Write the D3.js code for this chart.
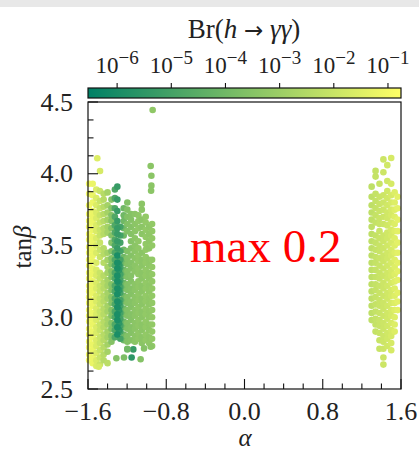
<!DOCTYPE html>
<html>
<head>
<meta charset="utf-8">
<script src="https://cdn.jsdelivr.net/npm/d3@7"></script>
<style>
  body { margin: 0; background: #fff; }
  svg { display: block; font-family: "Liberation Serif", "Times New Roman", serif; }
</style>
</head>
<body>
<svg id="chart" width="419" height="453"></svg>
<script>
// ── DATA ─────────────────────────────────────────────────────────────────────
const alphaTicks   = [-1.6, -0.8, 0.0, 0.8, 1.6];
const tanBetaTicks = [2.5, 3.0, 3.5, 4.0, 4.5];
const brExponents  = [-6, -5, -4, -3, -2, -1];
const brRange      = [2.9e-7, 0.174];

// left cluster, yellow side (alpha, Br, tanBeta values)
const yellowColumns = [
  { alpha: -1.588, br: 0.10,   tb: [2.70, 2.74, 2.79, 2.83, 2.88, 2.92, 2.97, 3.01, 3.05, 3.10, 3.14, 3.18, 3.22, 3.27, 3.31, 3.36, 3.40, 3.45, 3.49, 3.54, 3.58, 3.63, 3.67, 3.72, 3.78, 3.86, 3.93] },
  { alpha: -1.552, br: 0.06,   tb: [2.68, 2.72, 2.77, 2.81, 2.86, 2.90, 2.95, 2.99, 3.03, 3.08, 3.12, 3.17, 3.21, 3.25, 3.30, 3.34, 3.39, 3.43, 3.47, 3.52, 3.56, 3.61, 3.66, 3.70, 3.74, 3.80, 3.85, 3.93] },
  { alpha: -1.515, br: 0.025,  tb: [2.66, 2.70, 2.75, 2.80, 2.84, 2.89, 2.93, 2.98, 3.02, 3.06, 3.11, 3.15, 3.20, 3.24, 3.29, 3.33, 3.38, 3.45, 3.50, 3.55, 3.60, 3.64, 3.69, 3.73, 3.78, 3.83, 3.89] },
  { alpha: -1.478, br: 0.010,  tb: [2.67, 2.72, 2.77, 2.82, 2.86, 2.91, 2.95, 3.00, 3.04, 3.09, 3.13, 3.18, 3.22, 3.27, 3.31, 3.42, 3.47, 3.52, 3.57, 3.61, 3.66, 3.71, 3.76, 3.81, 3.88] },
  { alpha: -1.440, br: 4e-3,   tb: [2.70, 2.74, 2.79, 2.84, 2.88, 2.93, 2.97, 3.02, 3.06, 3.11, 3.15, 3.20, 3.24, 3.29, 3.38, 3.44, 3.48, 3.58, 3.62, 3.67, 3.72, 3.77, 3.82, 3.86] },
  { alpha: -1.400, br: 1.5e-3, tb: [2.76, 2.81, 2.86, 2.90, 2.95, 2.99, 3.04, 3.08, 3.13, 3.17, 3.22, 3.26, 3.31, 3.35, 3.40, 3.45, 3.59, 3.63, 3.68, 3.73, 3.78, 3.87] },
  { alpha: -1.360, br: 3e-4,   tb: [2.83, 2.87, 2.92, 2.96, 3.01, 3.05, 3.10, 3.14, 3.19, 3.23, 3.28, 3.32, 3.37, 3.41, 3.46, 3.52, 3.57, 3.62, 3.67, 3.71, 3.76, 3.82] }
];

// left cluster, green side
const greenColumns = [
  { alpha: -1.235, br: 1e-4,   tb: [2.84, 2.88, 2.93, 2.97, 3.02, 3.06, 3.11, 3.15, 3.20, 3.24, 3.29, 3.33, 3.38, 3.42, 3.47, 3.57, 3.62, 3.67, 3.71, 3.76] },
  { alpha: -1.198, br: 2.5e-4, tb: [2.78, 2.83, 2.87, 2.92, 2.96, 3.01, 3.05, 3.10, 3.14, 3.19, 3.23, 3.28, 3.32, 3.37, 3.41, 3.46, 3.60, 3.65, 3.70, 3.75, 3.80] },
  { alpha: -1.160, br: 3e-4,   tb: [2.84, 2.89, 2.93, 2.98, 3.02, 3.07, 3.11, 3.16, 3.20, 3.25, 3.29, 3.34, 3.38, 3.43, 3.48, 3.53, 3.58, 3.63, 3.68, 3.72] },
  { alpha: -1.120, br: 4e-4,   tb: [2.83, 2.87, 2.92, 2.96, 3.01, 3.05, 3.10, 3.14, 3.19, 3.23, 3.32, 3.36, 3.41, 3.46, 3.50, 3.55, 3.60, 3.65, 3.72] },
  { alpha: -1.085, br: 5e-4,   tb: [2.85, 2.89, 2.94, 2.98, 3.03, 3.07, 3.12, 3.16, 3.21, 3.25, 3.30, 3.34, 3.39, 3.43, 3.48, 3.53, 3.62, 3.67, 3.71] },
  { alpha: -1.050, br: 4e-4,   tb: [2.82, 2.86, 2.91, 2.95, 3.00, 3.04, 3.09, 3.13, 3.18, 3.22, 3.27, 3.31, 3.36, 3.40, 3.45, 3.58, 3.63, 3.68, 3.75, 3.79] },
  { alpha: -1.010, br: 6e-4,   tb: [2.84, 2.88, 2.93, 2.97, 3.02, 3.06, 3.11, 3.15, 3.20, 3.24, 3.29, 3.33, 3.38, 3.42, 3.47, 3.51, 3.56, 3.61, 3.66, 3.70] },
  { alpha: -0.975, br: 5e-4,   tb: [2.82, 2.86, 2.91, 2.95, 3.00, 3.04, 3.09, 3.13, 3.18, 3.22, 3.27, 3.31, 3.36, 3.40, 3.48, 3.53, 3.58, 3.63] },
  { alpha: -0.945, br: 6e-4,   tb: [2.80, 2.85, 2.90, 2.95, 3.00, 3.05, 3.10, 3.15, 3.20, 3.25, 3.30, 3.35, 3.40, 3.50, 3.55, 3.60, 3.65] }
];

// left cluster, dark streak
const streakColumns = [
  { alpha: -1.325, br: 2e-5,   tb: [2.86, 2.91, 2.95, 3.00, 3.04, 3.09, 3.13, 3.18, 3.22, 3.27, 3.31, 3.36, 3.40, 3.45, 3.50, 3.54, 3.59, 3.64, 3.70, 3.76, 3.83, 3.89] },
  { alpha: -1.270, br: 1e-5,   tb: [2.85, 2.90, 2.94, 2.99, 3.03, 3.08, 3.12, 3.17, 3.21, 3.26, 3.30, 3.35, 3.40, 3.46, 3.52, 3.57, 3.63] },
  { alpha: -1.282, br: 3e-6,   tb: [2.91, 2.96, 3.05, 3.10, 3.19, 3.24, 3.33, 3.37] },
  { alpha: -1.300, br: 5e-6,   tb: [3.48, 3.53, 3.58, 3.62, 3.67, 3.74, 3.82, 3.91] },
  { alpha: -1.300, br: 1.2e-6, tb: [2.88, 2.93, 2.98, 3.02, 3.07, 3.11, 3.16, 3.20, 3.25, 3.29, 3.34, 3.38, 3.43] }
];

// isolated points [alpha, tanBeta, Br]
const loosePoints = [
  [-1.505, 4.108, 0.03], [-1.477, 4.019, 0.02],
  [-0.959, 4.054, 4e-4], [-0.952, 3.986, 4e-4], [-0.952, 3.917, 4e-4], [-0.955, 3.882, 4e-4], [-0.939, 4.444, 5e-4],
  [-1.310, 2.714, 3e-4], [-1.232, 2.720, 2e-4], [-1.154, 2.720, 3e-6], [-1.062, 2.707, 3e-4],
  [-1.137, 2.776, 5e-6], [-1.198, 2.776, 1e-4], [-1.027, 2.783, 3e-4], [-0.959, 2.794, 4e-4],
  [-1.400, 2.680, 5e-3], [-1.490, 2.655, 0.02]
];

// right cluster
const rightColumns = [
  { alpha: 1.300, br: 6e-3,   tb: [2.98, 3.03, 3.08, 3.13, 3.18, 3.23, 3.28, 3.33, 3.38, 3.43, 3.48, 3.53, 3.58, 3.63, 3.68, 3.73, 3.78, 3.84, 3.91] },
  { alpha: 1.340, br: 8e-3,   tb: [2.90, 2.95, 2.99, 3.04, 3.09, 3.14, 3.19, 3.23, 3.28, 3.33, 3.38, 3.42, 3.47, 3.52, 3.57, 3.66, 3.71, 3.76, 3.81, 3.86, 3.98, 4.02] },
  { alpha: 1.380, br: 1e-2,   tb: [2.78, 2.84, 2.89, 2.94, 2.98, 3.03, 3.08, 3.12, 3.17, 3.22, 3.27, 3.31, 3.36, 3.41, 3.46, 3.50, 3.55, 3.60, 3.65, 3.69, 3.74, 3.79, 3.84, 3.93] },
  { alpha: 1.420, br: 1.2e-2, tb: [2.67, 2.72, 2.78, 2.83, 2.87, 2.92, 2.96, 3.01, 3.06, 3.10, 3.15, 3.20, 3.24, 3.29, 3.34, 3.39, 3.43, 3.48, 3.53, 3.57, 3.65, 3.70, 3.75, 3.80, 3.85, 4.01, 4.10] },
  { alpha: 1.460, br: 1.5e-2, tb: [2.80, 2.85, 2.89, 2.94, 2.99, 3.03, 3.08, 3.13, 3.17, 3.22, 3.27, 3.31, 3.36, 3.41, 3.45, 3.50, 3.55, 3.59, 3.64, 3.69, 3.73, 3.78, 3.83, 3.88, 3.95, 4.06] },
  { alpha: 1.500, br: 2e-2,   tb: [2.77, 2.82, 2.87, 2.91, 2.96, 3.01, 3.05, 3.10, 3.15, 3.19, 3.24, 3.29, 3.33, 3.38, 3.43, 3.47, 3.52, 3.57, 3.61, 3.66, 3.71, 3.75, 3.80, 3.85, 3.93, 4.11] },
  { alpha: 1.535, br: 3e-2,   tb: [2.90, 2.95, 3.00, 3.05, 3.10, 3.15, 3.20, 3.25, 3.30, 3.35, 3.40, 3.45, 3.50, 3.55, 3.60, 3.65, 3.70, 3.75, 3.80, 3.87] },
  { alpha: 1.565, br: 4e-2,   tb: [3.05, 3.11, 3.17, 3.26, 3.32, 3.38, 3.45, 3.52, 3.60, 3.68, 3.76, 3.84] }
];

// ── LAYOUT ───────────────────────────────────────────────────────────────────
const plot = { left: 88, right: 401, top: 102, bottom: 389 };
const cbar = { top: 88, bottom: 98 };

const svg = d3.select('#chart');

// faint strip of the slide above the figure
svg.append('rect').attr('x', 0).attr('y', 0).attr('width', 419).attr('height', 7).attr('fill', '#e8e8e8');

// ── SCALES ───────────────────────────────────────────────────────────────────
const x = d3.scaleLinear().domain([-1.6, 1.6]).range([plot.left, plot.right]);
const y = d3.scaleLinear().domain([2.5, 4.5]).range([plot.bottom, plot.top]);

const summer = d3.interpolateRgb('#008066', '#ffff66');
const color  = d3.scaleSequentialLog(summer).domain(brRange);
const cbX    = d3.scaleLog().domain(brRange).range([plot.left, plot.right]);

// ── POINTS ───────────────────────────────────────────────────────────────────
const fromColumns = cols => cols.flatMap(c => c.tb.map(t => ({ alpha: c.alpha, tanBeta: t, br: c.br })));
const points = [
  ...fromColumns(yellowColumns),
  ...fromColumns(greenColumns),
  ...fromColumns(streakColumns),
  ...loosePoints.map(([a, t, b]) => ({ alpha: a, tanBeta: t, br: b })),
  ...fromColumns(rightColumns)
];

svg.append('g')
  .selectAll('circle')
  .data(points)
  .join('circle')
    .attr('cx', d => x(d.alpha))
    .attr('cy', d => y(d.tanBeta))
    .attr('r', 3.3)
    .attr('fill', d => color(d.br));

// ── FRAME + TICKS ────────────────────────────────────────────────────────────
svg.append('rect')
  .attr('x', plot.left).attr('y', plot.top)
  .attr('width', plot.right - plot.left).attr('height', plot.bottom - plot.top)
  .attr('fill', 'none').attr('stroke', '#111').attr('stroke-width', 1.2);

const xMinor = d3.range(-1.6, 1.61, 0.2).filter(v => !alphaTicks.some(t => Math.abs(t - v) < 1e-6));
const yMinor = d3.range(2.5, 4.51, 0.125).filter(v => !tanBetaTicks.some(t => Math.abs(t - v) < 1e-6));

const ticks = svg.append('g').attr('stroke', '#111').attr('stroke-width', 1.1);
ticks.selectAll('.xmaj').data(alphaTicks).join('line')
  .attr('x1', d => x(d)).attr('x2', d => x(d))
  .attr('y1', plot.bottom).attr('y2', plot.bottom - 10);
ticks.selectAll('.xmin').data(xMinor).join('line')
  .attr('x1', d => x(d)).attr('x2', d => x(d))
  .attr('y1', plot.bottom).attr('y2', plot.bottom - 5.5);
ticks.selectAll('.ymaj').data(tanBetaTicks).join('line')
  .attr('y1', d => y(d)).attr('y2', d => y(d))
  .attr('x1', plot.left).attr('x2', plot.left + 10);
ticks.selectAll('.ymin').data(yMinor).join('line')
  .attr('y1', d => y(d)).attr('y2', d => y(d))
  .attr('x1', plot.left).attr('x2', plot.left + 5.5);

const fmt = d => (d < 0 ? '\u2212' : '') + Math.abs(d).toFixed(1);

svg.append('g').selectAll('text').data(alphaTicks).join('text')
  .attr('x', d => x(d)).attr('y', 420)
  .attr('text-anchor', 'middle').attr('font-size', 26).attr('fill', '#222')
  .text(fmt);

svg.append('g').selectAll('text').data(tanBetaTicks).join('text')
  .attr('x', 73).attr('y', d => y(d) + 8.5)
  .attr('text-anchor', 'end').attr('font-size', 26).attr('fill', '#222')
  .text(fmt);

// axis titles
svg.append('text')
  .attr('x', 245).attr('y', 446)
  .attr('text-anchor', 'middle').attr('font-size', 25).attr('font-style', 'italic').attr('fill', '#222')
  .text('α');

const yLab = svg.append('text')
  .attr('transform', 'translate(31,247) rotate(-90)')
  .attr('text-anchor', 'middle').attr('font-size', 25).attr('fill', '#222');
yLab.append('tspan').text('tan');
yLab.append('tspan').attr('font-style', 'italic').text('β');

// ── COLORBAR ─────────────────────────────────────────────────────────────────
const grad = svg.append('defs').append('linearGradient').attr('id', 'cb-grad');
d3.range(0, 1.001, 0.1).forEach(t => {
  grad.append('stop').attr('offset', t).attr('stop-color', summer(t));
});

svg.append('rect')
  .attr('x', plot.left).attr('y', cbar.top)
  .attr('width', plot.right - plot.left).attr('height', cbar.bottom - cbar.top)
  .attr('fill', 'url(#cb-grad)').attr('stroke', '#111').attr('stroke-width', 1.2);

svg.append('g').attr('stroke', '#111').attr('stroke-width', 1.1)
  .selectAll('line').data(brExponents).join('line')
    .attr('x1', d => cbX(Math.pow(10, d))).attr('x2', d => cbX(Math.pow(10, d)))
    .attr('y1', cbar.top).attr('y2', cbar.top - 5);

const cbLabels = svg.append('g').selectAll('text').data(brExponents).join('text')
  .attr('x', d => cbX(Math.pow(10, d))).attr('y', 73)
  .attr('text-anchor', 'middle').attr('font-size', 23).attr('fill', '#222');
cbLabels.append('tspan').text('10');
cbLabels.append('tspan').attr('dy', -9).attr('font-size', 19).text(d => '\u2212' + Math.abs(d));

const title = svg.append('text')
  .attr('x', 244).attr('y', 38)
  .attr('text-anchor', 'middle').attr('font-size', 27).attr('fill', '#222');
title.append('tspan').text('Br(');
title.append('tspan').attr('font-style', 'italic').text('h');
title.append('tspan').text(' ');
title.append('tspan').attr('font-family', '"DejaVu Sans", sans-serif').attr('font-size', 23).text('→');
title.append('tspan').text(' ');
title.append('tspan').attr('font-style', 'italic').text('γγ');
title.append('tspan').text(')');

// ── ANNOTATION ───────────────────────────────────────────────────────────────
svg.append('text')
  .attr('x', 190).attr('y', 262)
  .attr('font-size', 47).attr('fill', '#ff0000')
  .text('max 0.2');
</script>
</body>
</html>
